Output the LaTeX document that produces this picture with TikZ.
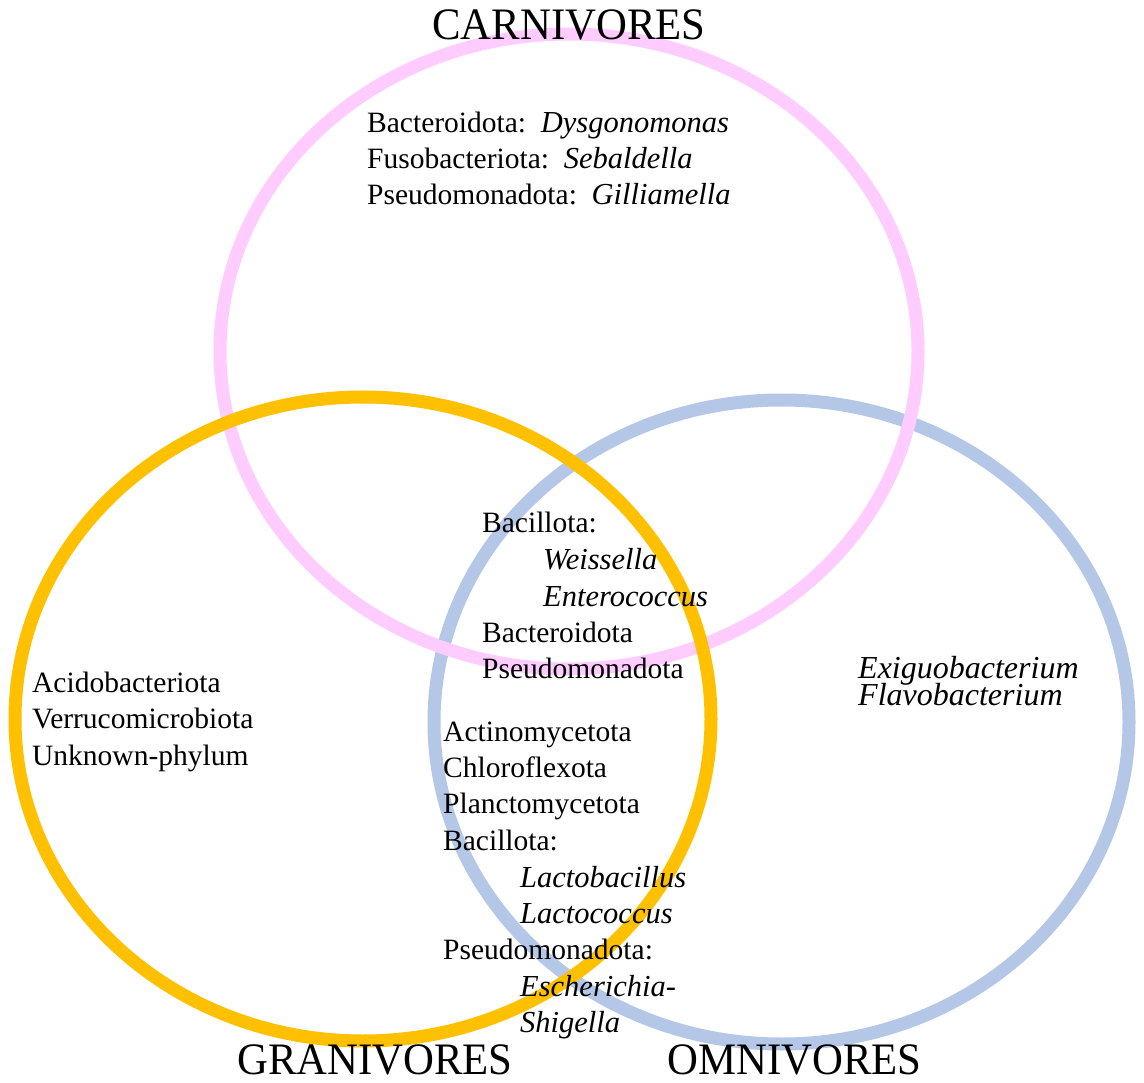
\documentclass[tikz,border=0pt]{standalone}
\usepackage{fontspec}
\setmainfont{Liberation Serif}
\definecolor{carn}{HTML}{FFCCFF}
\definecolor{gran}{HTML}{FFC000}
\definecolor{omni}{HTML}{B4C7E7}
\newcommand\gen[1]{{\fontsize{30.5}{36}\selectfont\itshape #1}}
\begin{document}
\begin{tikzpicture}[x=1pt,y=-1pt,
  ring/.style={line width=13pt},
  lbl/.style={anchor=base west, inner sep=0pt, font=\fontsize{29.5}{36}\selectfont},
  big/.style={anchor=base west, inner sep=0pt, font=\fontsize{32}{36}\selectfont\itshape},
  ttl/.style={anchor=base, inner sep=0pt, font=\fontsize{45}{54}\selectfont}]
\useasboundingbox (0,0) rectangle (1144,1083);
\fill[white] (0,0) rectangle (1144,1083);
% circles
\draw[ring, omni] (781.5,722) ellipse [x radius=347.5, y radius=322];
\draw[ring, carn] (569,351.5) ellipse [x radius=349, y radius=317.5];
\draw[ring, gran] (363,719) ellipse [x radius=348, y radius=322];
% titles
\node[ttl] (carnT) at (569,40) {\scalebox{0.95}[1]{CARNIVORES}};
\node[ttl] (granT) at (375,1074) {\scalebox{0.95}[1]{GRANIVORES}};
\node[ttl] (omniT) at (794.5,1074) {\scalebox{0.95}[1]{OMNIVORES}};
% carnivores only
\node[lbl] (c1) at (367,133) {Bacteroidota:\ \ \gen{Dysgonomonas}};
\node[lbl] (c2) at (367,169) {Fusobacteriota:\ \ \gen{Sebaldella}};
\node[lbl] (c3) at (367,205) {Pseudomonadota:\ \ \gen{Gilliamella}};
% granivores only
\node[lbl] (g1) at (32,692) {Acidobacteriota};
\node[lbl] (g2) at (32,728) {Verrucomicrobiota};
\node[lbl] (g3) at (32,765) {Unknown-phylum};
% omnivores only
\node[big] (o1) at (858,678) {Exiguobacterium};
\node[big] (o2) at (858,705) {Flavobacterium};
% all three
\node[lbl] (a1) at (482,532) {Bacillota:};
\node[lbl] (a2) at (543,569) {\gen{Weissella}};
\node[lbl] (a3) at (543,606) {\gen{Enterococcus}};
\node[lbl] (a4) at (482,642) {Bacteroidota};
\node[lbl] (a5) at (482,678) {Pseudomonadota};
% granivores and omnivores
\node[lbl] (b1) at (443,741) {Actinomycetota};
\node[lbl] (b2) at (443,777) {Chloroflexota};
\node[lbl] (b3) at (443,813) {Planctomycetota};
\node[lbl] (b4) at (443,850) {Bacillota:};
\node[lbl] (b5) at (520,887) {\gen{Lactobacillus}};
\node[lbl] (b6) at (520,923) {\gen{Lactococcus}};
\node[lbl] (b7) at (443,959) {Pseudomonadota:};
\node[lbl] (b8) at (520,996) {\gen{Escherichia-}};
\node[lbl] (b9) at (520,1032) {\gen{Shigella}};
\end{tikzpicture}
\end{document}
